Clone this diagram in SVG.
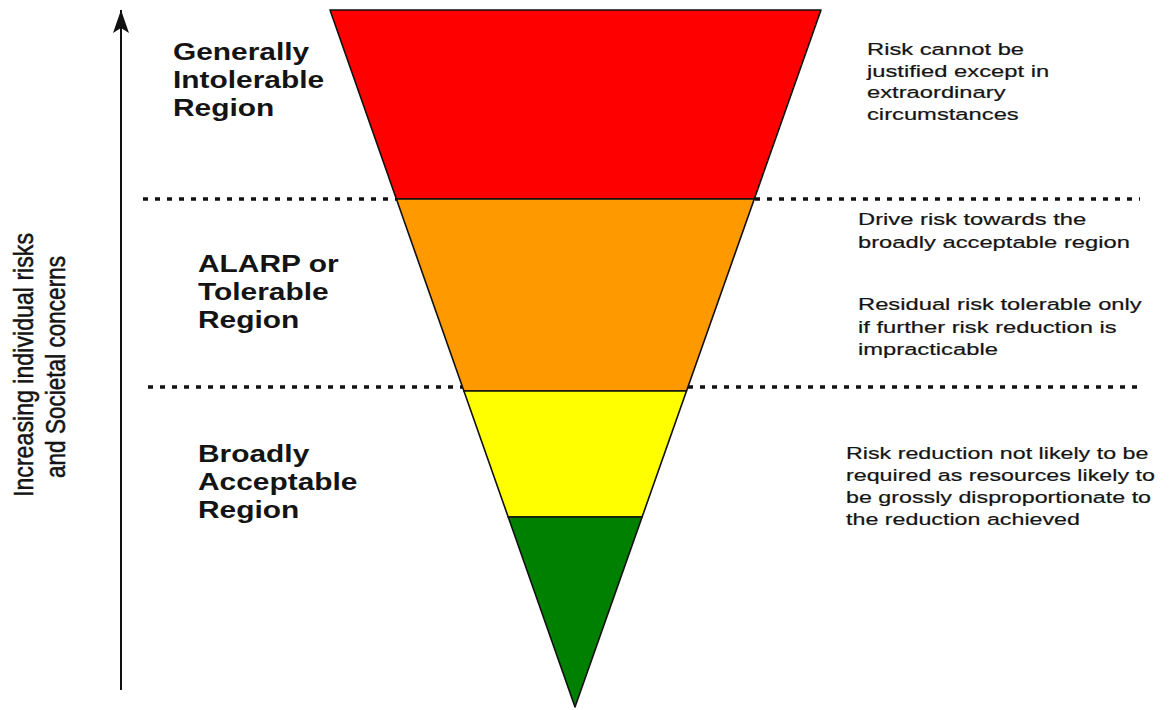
<svg xmlns="http://www.w3.org/2000/svg" width="1176" height="710" viewBox="0 0 1176 710">
<style>
.band{stroke:#111;stroke-width:1.6;stroke-linejoin:round}
.dots{stroke:#111;stroke-width:3.5;stroke-dasharray:5 7;fill:none}
.lbl{font-family:"Liberation Sans",Arial,sans-serif;font-weight:bold;font-size:23px;fill:#141414}
.note{font-family:"Liberation Sans",Arial,sans-serif;font-size:16.5px;fill:#141414;stroke:#141414;stroke-width:0.2}
.axis{font-family:"Liberation Sans Narrow","Liberation Sans",Arial,sans-serif;font-size:27px;fill:#141414;stroke:#141414;stroke-width:0.5}
</style>
<defs>
<marker id="ah" markerUnits="userSpaceOnUse" markerWidth="24" markerHeight="20" refX="23" refY="10" orient="auto" viewBox="0 0 24 20">
<path d="M23,10 L0,2 L5,10 L0,18 Z" fill="#111"/>
</marker>
</defs>
<rect width="1176" height="710" fill="#fff"/>
<g id="connectors">
<line class="dots" x1="143" y1="199" x2="1140" y2="199"/>
<line class="dots" x1="148" y1="387" x2="1140" y2="387"/>
<line x1="121" y1="690" x2="121" y2="10" stroke="#111" stroke-width="2" marker-end="url(#ah)"/>
</g>
<g id="intolerable">
<polygon class="band" fill="#fe0000" points="330,10 821,10 754.3,199 396.4,199"/>
<text class="lbl" transform="translate(173,0) scale(1.3,1)"><tspan x="0" y="60">Generally</tspan><tspan x="0" y="88">Intolerable</tspan><tspan x="0" y="116">Region</tspan></text>
<text class="note" transform="translate(867,0) scale(1.44,1)"><tspan x="0" y="55">Risk cannot be</tspan><tspan x="0" y="77">justified except in</tspan><tspan x="0" y="98">extraordinary</tspan><tspan x="0" y="120">circumstances</tspan></text>
</g>
<g id="alarp">
<polygon class="band" fill="#ff9900" points="396.4,199 754.3,199 686.5,391 463.9,391"/>
<text class="lbl" transform="translate(198,0) scale(1.3,1)"><tspan x="0" y="272">ALARP or</tspan><tspan x="0" y="300">Tolerable</tspan><tspan x="0" y="328">Region</tspan></text>
<text class="note" transform="translate(858,0) scale(1.44,1)"><tspan x="0" y="225">Drive risk towards the</tspan><tspan x="0" y="248">broadly acceptable region</tspan></text>
<text class="note" transform="translate(858,0) scale(1.44,1)"><tspan x="0" y="310">Residual risk tolerable only</tspan><tspan x="0" y="333">if further risk reduction is</tspan><tspan x="0" y="355">impracticable</tspan></text>
</g>
<g id="acceptable">
<polygon class="band" fill="#ffff00" points="463.9,391 686.5,391 642.1,517 508.2,517"/>
<text class="lbl" transform="translate(198,0) scale(1.3,1)"><tspan x="0" y="462">Broadly</tspan><tspan x="0" y="490">Acceptable</tspan><tspan x="0" y="518">Region</tspan></text>
<text class="note" transform="translate(846,0) scale(1.41,1)"><tspan x="0" y="459">Risk reduction not likely to be</tspan><tspan x="0" y="481">required as resources likely to</tspan><tspan x="0" y="503">be grossly disproportionate to</tspan><tspan x="0" y="525">the reduction achieved</tspan></text>
</g>
<g id="negligible">
<polygon class="band" fill="#008000" points="508.2,517 642.1,517 575,707"/>
</g>
<g id="axis-label">
<text class="axis" transform="translate(33,365) rotate(-90)" text-anchor="middle" textLength="264" lengthAdjust="spacingAndGlyphs">Increasing individual risks</text>
<text class="axis" transform="translate(65,367) rotate(-90)" text-anchor="middle" textLength="222" lengthAdjust="spacingAndGlyphs">and Societal concerns</text>
</g>
</svg>
